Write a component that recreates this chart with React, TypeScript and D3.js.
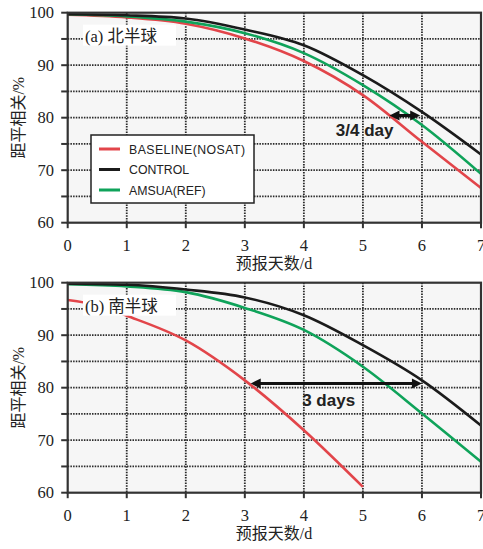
import React from "react";
import * as d3 from "d3";

const days = [0, 1, 2, 3, 4, 5, 6, 7];
const xTicks = [0, 1, 2, 3, 4, 5, 6, 7];
const yTicks = [60, 70, 80, 90, 100];
const yMinor = [60, 65, 70, 75, 80, 85, 90, 95, 100];
const gridX = [1, 2, 3, 4, 5, 6];
const gridY = [65, 70, 75, 80, 85, 90, 95];

const aBaseline = [99.6, 99.1, 97.9, 95.1, 90.8, 84.3, 75.4, 66.6];
const aControl = [99.7, 99.5, 98.9, 96.8, 93.8, 88.1, 81.1, 73.0];
const aAmsua = [99.7, 99.3, 98.3, 96.1, 92.3, 86.2, 78.6, 69.3];

const bBaselineDays = [0, 0.5, 1, 2, 3, 4, 5];
const bBaseline = [96.7, 95.7, 93.7, 89.0, 81.4, 71.9, 61.1];
const bControl = [99.8, 99.6, 98.7, 97.2, 93.8, 88.1, 81.4, 72.8];
const bAmsua = [99.7, 99.3, 98.2, 95.2, 91.0, 84.0, 75.1, 65.9];

const legendLabels = ["BASELINE(NOSAT)", "CONTROL", "AMSUA(REF)"];
const colors = { baseline: "#e2454a", control: "#1b1b1b", amsua: "#0fa35a" };

const serif = "Liberation Serif, DejaVu Serif, Noto Sans CJK SC, serif";
const sans = "Liberation Sans, Arial, sans-serif";

const X0 = 67.7;
const X1 = 481;

type Series = { xs: number[]; ys: number[]; color: string };

function Arrow({ x1, x2, y }: { x1: number; x2: number; y: number }) {
  const h = 10;
  const w = 5;
  return (
    <g fill="#111" stroke="#111">
      <line x1={x1 + h - 1} x2={x2 - h + 1} y1={y} y2={y} strokeWidth={3.2} />
      <path d={`M${x1},${y} L${x1 + h},${y - w} L${x1 + h},${y + w} Z`} stroke="none" />
      <path d={`M${x2},${y} L${x2 - h},${y - w} L${x2 - h},${y + w} Z`} stroke="none" />
    </g>
  );
}

function Panel({
  top,
  label,
  series,
  arrow,
  arrowText,
  textPos,
  legend,
}: {
  top: number;
  label: string;
  series: Series[];
  arrow: { d1: number; d2: number; v: number };
  arrowText: string;
  textPos: { d: number; v: number };
  legend: boolean;
}) {
  const x = d3.scaleLinear().domain([0, 7]).range([X0, X1]);
  const y = d3.scaleLinear().domain([60, 100]).range([top + 210, top]);
  const line = d3
    .line<[number, number]>()
    .x((p) => x(p[0]))
    .y((p) => y(p[1]))
    .curve(d3.curveMonotoneX);
  const bottom = y(60);
  const serifStyle = { fontFamily: serif };
  const sansStyle = { fontFamily: sans };
  return (
    <g>
      <rect x={X0} y={top} width={X1 - X0} height={210} fill="#f6f6f6" />
      {gridX.map((g) => (
        <line key={"gx" + g} x1={x(g)} x2={x(g)} y1={top} y2={bottom} stroke="#2a2a2a" strokeWidth={1.8} strokeDasharray="1.5,1.2" />
      ))}
      {gridY.map((g) => (
        <line key={"gy" + g} x1={X0} x2={X1} y1={y(g)} y2={y(g)} stroke="#2a2a2a" strokeWidth={1.8} strokeDasharray="1.5,1.2" />
      ))}
      {series.map((s, i) => (
        <path
          key={i}
          d={line(s.xs.map((d, j) => [d, s.ys[j]] as [number, number])) || ""}
          fill="none"
          stroke={s.color}
          strokeWidth={2.6}
        />
      ))}
      <rect x={83} y={top + 12} width={93} height={21} fill="#ffffff" />
      <text x={85} y={top + 29} style={serifStyle} fontSize={16.5} fill="#222">
        {label}
      </text>
      <Arrow x1={x(arrow.d1)} x2={x(arrow.d2)} y={y(arrow.v)} />
      <text
        x={x(textPos.d)}
        y={y(textPos.v)}
        style={sansStyle}
        fontWeight="bold"
        fontSize={17}
        textAnchor="middle"
        fill="#222"
      >
        {arrowText}
      </text>
      {legend && (
        <g>
          <rect x={91} y={135} width={163} height={68} fill="#ffffff" stroke="#222" strokeWidth={1.5} />
          {legendLabels.map((t, i) => {
            const c = [colors.baseline, colors.control, colors.amsua][i];
            const ly = 149 + i * 20.5;
            return (
              <g key={t}>
                <line x1={99} x2={120} y1={ly} y2={ly} stroke={c} strokeWidth={3} />
                <text x={129} y={ly + 4.5} style={sansStyle} fontSize={12.3} fill="#222" textLength={t === legendLabels[0] ? 116 : undefined}>
                  {t}
                </text>
              </g>
            );
          })}
        </g>
      )}
      <rect x={X0} y={top} width={X1 - X0} height={210} fill="none" stroke="#333" strokeWidth={2.2} />
      {yMinor.map((t) => (
        <line key={"yt" + t} x1={X0 - 6.5} x2={X0} y1={y(t)} y2={y(t)} stroke="#333" strokeWidth={2} />
      ))}
      {xTicks.map((t) => (
        <line key={"xt" + t} x1={x(t)} x2={x(t)} y1={bottom} y2={bottom + 5.5} stroke="#333" strokeWidth={2} />
      ))}
      {yTicks.map((t) => (
        <text key={"yl" + t} x={54} y={y(t) + 5.5} textAnchor="end" style={serifStyle} fontSize={16.5} fill="#222">
          {t}
        </text>
      ))}
      {xTicks.map((t) => (
        <text key={"xl" + t} x={x(t)} y={bottom + 28} textAnchor="middle" style={serifStyle} fontSize={16.5} fill="#222">
          {t}
        </text>
      ))}
      <text x={274} y={bottom + 46} textAnchor="middle" style={serifStyle} fontSize={16} fill="#222">
        预报天数/d
      </text>
      <text
        transform={`translate(24,${top + 105}) rotate(-90)`}
        textAnchor="middle"
        style={serifStyle}
        fontSize={16}
        fill="#222"
      >
        距平相关/%
      </text>
    </g>
  );
}

export default function App() {
  return (
    <svg
      width={483}
      height={549}
      style={{ position: "absolute", left: 0, top: 0, background: "#fff" }}
    >
      <Panel
        top={12.7}
        label="(a) 北半球"
        series={[
          { xs: days, ys: aBaseline, color: colors.baseline },
          { xs: days, ys: aAmsua, color: colors.amsua },
          { xs: days, ys: aControl, color: colors.control },
        ]}
        arrow={{ d1: 5.45, d2: 5.97, v: 80.4 }}
        arrowText="3/4 day"
        textPos={{ d: 5.03, v: 76.6 }}
        legend={true}
      />
      <Panel
        top={282.7}
        label="(b) 南半球"
        series={[
          { xs: bBaselineDays, ys: bBaseline, color: colors.baseline },
          { xs: days, ys: bAmsua, color: colors.amsua },
          { xs: days, ys: bControl, color: colors.control },
        ]}
        arrow={{ d1: 3.1, d2: 6.0, v: 80.8 }}
        arrowText="3 days"
        textPos={{ d: 4.42, v: 76.6 }}
        legend={false}
      />
    </svg>
  );
}
